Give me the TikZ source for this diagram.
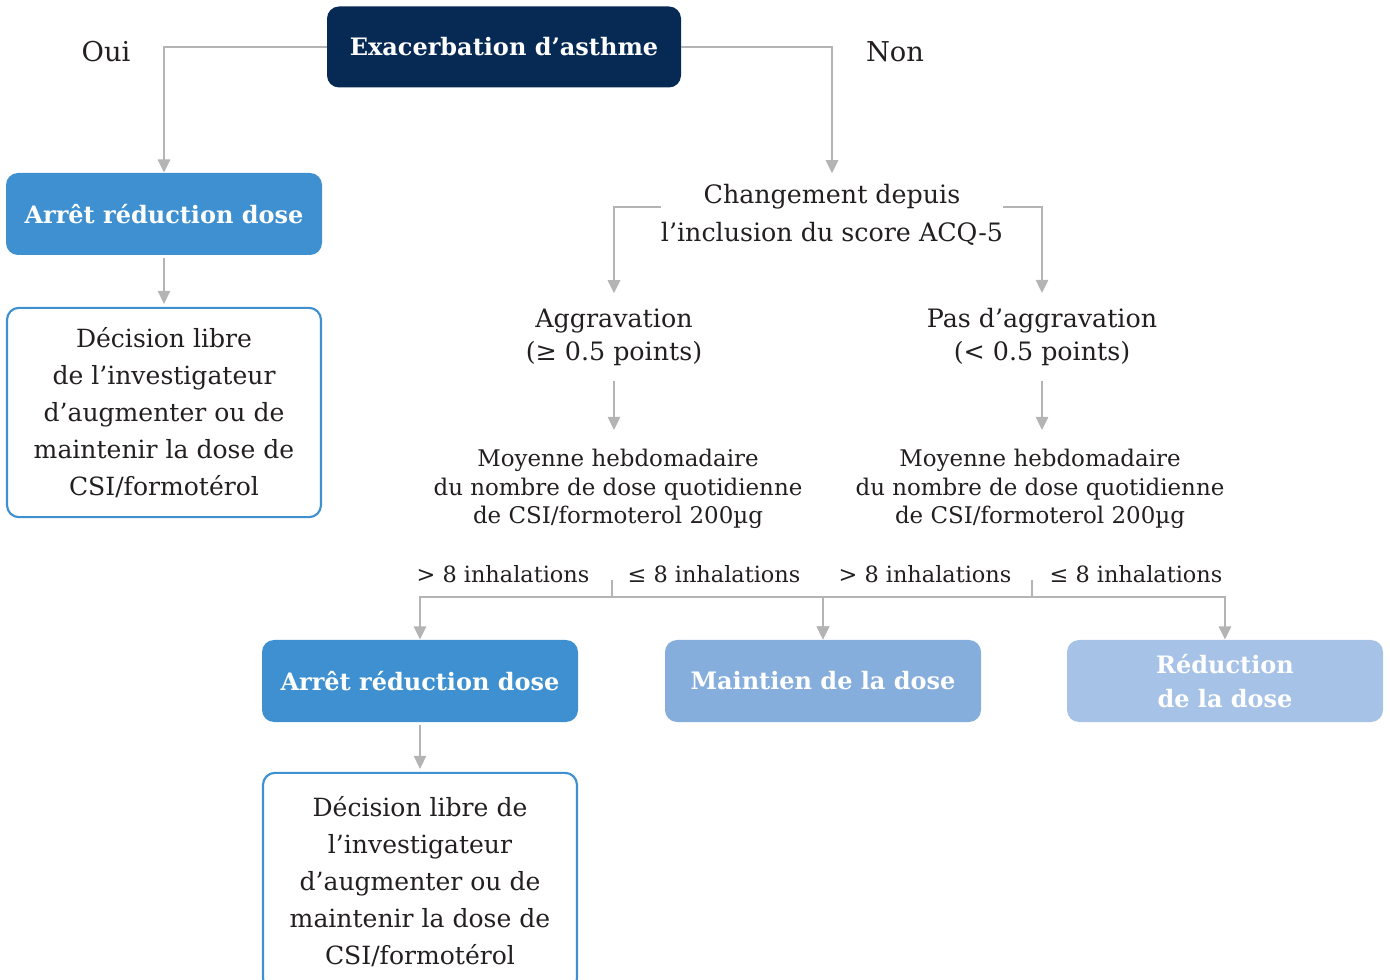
\documentclass[tikz,border=0pt]{standalone}
\usepackage{fontspec}
\setmainfont{DejaVu Serif}
\usepackage{xcolor}
\usetikzlibrary{arrows.meta,positioning,calc}
\definecolor{marine}{HTML}{072A55}
\definecolor{bleuA}{HTML}{3E90D0}
\definecolor{bleuB}{HTML}{86AEDC}
\definecolor{bleuC}{HTML}{A6C2E6}
\definecolor{grig}{HTML}{B4B4B4}
\definecolor{texte}{HTML}{231F20}
\tikzset{%
  freccia/.style={-{Triangle[width=9pt,length=10pt]},line width=2.2pt,draw=grig},
  linea/.style={line width=2.2pt,draw=grig},
  boite/.style={%
    rounded corners=9pt, text=white, align=center,
    minimum width=237pt, minimum height=61.5pt,
    font={\fontsize{18}{26}\selectfont\bfseries}
  },
  cadre/.style={%
    rounded corners=9pt, draw=bleuA, line width=1.6pt, text=texte,
    align=center, minimum width=235.5pt,
    font={\fontsize{18.8}{27.8}\selectfont}
  },
  libelle/.style={text=texte, align=center, inner xsep=0pt, inner ysep=8pt,
    font={\fontsize{19}{28.5}\selectfont}},
  moyenne/.style={text=texte, align=center, inner ysep=14pt,
    font={\fontsize{17.2}{21.5}\selectfont}},
  inhal/.style={text=texte, font={\fontsize{16.8}{18}\selectfont}}
}
\begin{document}
\begin{tikzpicture}[x=0.75pt,y=-0.75pt]
\useasboundingbox (0,0) rectangle (1390,980);

% boites
\node[boite,fill=marine,minimum width=265.5pt,minimum height=60.75pt] (exa) at (504,47) {Exacerbation d’asthme};
\node[boite,fill=bleuA] (arret1) at (164,214) {Arrêt réduction dose};
\node[cadre,minimum height=157pt] (dec1) at (164,412.5) {Décision libre\\de l’investigateur\\d’augmenter ou de\\maintenir la dose de\\CSI/formotérol};
\node[boite,fill=bleuA] (arret2) at (420,681) {Arrêt réduction dose};
\node[boite,fill=bleuB] (maint) at (823,681) {Maintien de la dose};
\node[boite,fill=bleuC] (reduc) at (1225,681) {Réduction\\de la dose};
\node[cadre,minimum height=163pt] (dec2) at (420,881.5) {Décision libre de\\l’investigateur\\d’augmenter ou de\\maintenir la dose de\\CSI/formotérol};

% textes
\node[libelle,font={\fontsize{20.5}{24}\selectfont}] (oui) at (106,52) {Oui};
\node[libelle,font={\fontsize{20.5}{24}\selectfont}] (non) at (895,52) {Non};
\node[libelle] (chg) at (832,215) {Changement depuis\\l’inclusion du score ACQ-5};
\node[libelle,inner ysep=11pt,font={\fontsize{19}{25}\selectfont}] (aggr) at (614,337) {Aggravation\\(≥ 0.5 points)};
\node[libelle,inner ysep=11pt,font={\fontsize{19}{25}\selectfont}] (pasaggr) at (1042,337) {Pas d’aggravation\\(< 0.5 points)};
\node[moyenne] (moy1) at (618,489) {Moyenne hebdomadaire\\du nombre de dose quotidienne\\de CSI/formoterol 200µg};
\node[moyenne] (moy2) at (1040,489) {Moyenne hebdomadaire\\du nombre de dose quotidienne\\de CSI/formoterol 200µg};
\node[inhal] (inh1) at (503,574) {> 8 inhalations};
\node[inhal] (inh2) at (714,574) {≤ 8 inhalations};
\node[inhal] (inh3) at (925,574) {> 8 inhalations};
\node[inhal] (inh4) at (1136,574) {≤ 8 inhalations};

\coordinate (t1) at (612,580);
\coordinate (b1) at (612,597);
\coordinate (t2) at (1032,580);
\coordinate (b2) at (1032,597);

% fleches
\draw[freccia] (exa.west) -| (arret1.north);
\draw[freccia] (exa.east) -| (chg.north);
\draw[freccia,shorten <=2pt,shorten >=2pt] (arret1) -- (dec1);
\draw[freccia] ([yshift=6pt]chg.west) -| (aggr.north);
\draw[freccia] ([yshift=6pt]chg.east) -| (pasaggr.north);
\draw[freccia] (aggr.south) -- (aggr.south |- moy1.north);
\draw[freccia] (pasaggr.south) -- (pasaggr.south |- moy2.north);
\draw[linea] (t1) -- (b1);
\draw[linea] (t2) -- (b2);
\draw[freccia] (b1) -| (arret2.north);
\draw[freccia] (b1) -| (maint.north);
\draw[freccia] (b2) -| (maint.north);
\draw[freccia] (b2) -| (reduc.north);
\draw[freccia,shorten <=2pt,shorten >=2pt] (arret2) -- (dec2);
\end{tikzpicture}
\end{document}
